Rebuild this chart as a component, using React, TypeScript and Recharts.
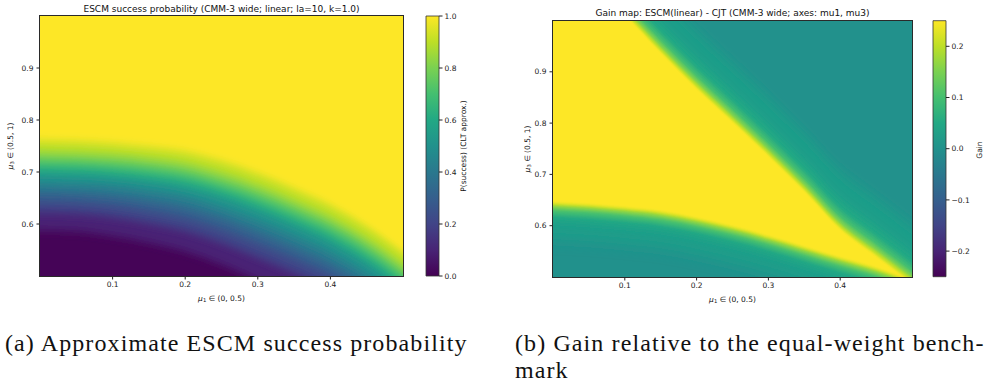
import React from 'react'
import { ComposedChart, Area, XAxis, YAxis, BarChart, Bar } from 'recharts'

const MU1 = [0, 0.05, 0.1, 0.15, 0.2, 0.25, 0.3, 0.35, 0.4, 0.45, 0.5]
const X_TICKS = [0.1, 0.2, 0.3, 0.4]
const Y_TICKS = [0.6, 0.7, 0.8, 0.9]
const CB_A_TICKS = [0, 0.2, 0.4, 0.6, 0.8, 1]
const CB_B_TICKS = [-0.2, -0.1, 0, 0.1, 0.2]

// matplotlib viridis, 0.0 .. 1.0 in steps of 0.1
const VIRIDIS = ['#440154', '#482475', '#414487', '#355f8d', '#2a788e', '#21918c', '#22a884', '#44bf70', '#7ad151', '#bddf26', '#fde725']

// (a) mu3 where P(success) passes 0.05, 0.15, ... 0.95
const P05 = [0.588, 0.586, 0.577, 0.564, 0.547, 0.522, 0.492, 0.463, 0.431, 0.39, 0.34]
const P15 = [0.622, 0.62, 0.613, 0.601, 0.586, 0.563, 0.535, 0.506, 0.474, 0.433, 0.383]
const P25 = [0.643, 0.641, 0.635, 0.624, 0.61, 0.588, 0.561, 0.532, 0.5, 0.459, 0.409]
const P35 = [0.661, 0.659, 0.654, 0.644, 0.631, 0.61, 0.583, 0.554, 0.522, 0.481, 0.431]
const P45 = [0.678, 0.676, 0.672, 0.663, 0.651, 0.63, 0.604, 0.575, 0.543, 0.502, 0.452]
const P55 = [0.696, 0.694, 0.69, 0.682, 0.67, 0.651, 0.626, 0.597, 0.565, 0.524, 0.474]
const P65 = [0.71, 0.708, 0.704, 0.696, 0.685, 0.666, 0.641, 0.612, 0.58, 0.539, 0.489]
const P75 = [0.723, 0.721, 0.717, 0.71, 0.699, 0.68, 0.656, 0.627, 0.595, 0.554, 0.504]
const P85 = [0.738, 0.736, 0.732, 0.725, 0.715, 0.696, 0.672, 0.643, 0.611, 0.57, 0.52]
const P95 = [0.76, 0.758, 0.754, 0.747, 0.738, 0.72, 0.696, 0.667, 0.635, 0.594, 0.544]

// (b) lower edge of the yellow wedge and its fade into teal below it
const LOW_F = [0.574, 0.57, 0.564, 0.556, 0.543, 0.527, 0.508, 0.487, 0.466, 0.446, 0.42]
const LOW_E = [0.609, 0.605, 0.599, 0.591, 0.578, 0.562, 0.543, 0.522, 0.501, 0.481, 0.455]
const LOW_D = [0.622, 0.618, 0.612, 0.604, 0.591, 0.575, 0.556, 0.535, 0.514, 0.494, 0.468]
const LOW_C = [0.632, 0.628, 0.622, 0.614, 0.601, 0.585, 0.566, 0.545, 0.524, 0.504, 0.478]
const LOW_B = [0.639, 0.635, 0.629, 0.621, 0.608, 0.592, 0.573, 0.552, 0.531, 0.511, 0.485]
const LOW_Y = [0.644, 0.64, 0.634, 0.626, 0.613, 0.597, 0.578, 0.557, 0.536, 0.516, 0.49]
// (b) upper edge of the yellow wedge and its fade into teal above it
const UP_Y = [1.16, 1.09, 1.015, 0.94, 0.87, 0.805, 0.739, 0.67, 0.596, 0.543, 0.49]
const UP_B = [1.168, 1.098, 1.023, 0.948, 0.878, 0.813, 0.747, 0.678, 0.604, 0.551, 0.498]
const UP_C = [1.178, 1.108, 1.033, 0.958, 0.888, 0.823, 0.757, 0.688, 0.614, 0.561, 0.508]
const UP_D = [1.192, 1.122, 1.047, 0.972, 0.902, 0.837, 0.771, 0.702, 0.628, 0.575, 0.522]
const UP_E = [1.215, 1.145, 1.07, 0.995, 0.925, 0.86, 0.794, 0.725, 0.651, 0.598, 0.545]
const UP_F = [1.27, 1.2, 1.125, 1.05, 0.98, 0.915, 0.849, 0.78, 0.706, 0.653, 0.6]

type Layer = { key: string; values: number[]; color: string; blur: number }

// each layer paints everything above its contour, later layers on top
const LAYERS_A: Layer[] = [
    { key: 'p05', values: P05, color: VIRIDIS[1], blur: 4 },
    { key: 'p15', values: P15, color: VIRIDIS[2], blur: 4 },
    { key: 'p25', values: P25, color: VIRIDIS[3], blur: 4 },
    { key: 'p35', values: P35, color: VIRIDIS[4], blur: 4 },
    { key: 'p45', values: P45, color: VIRIDIS[5], blur: 4 },
    { key: 'p55', values: P55, color: VIRIDIS[6], blur: 4 },
    { key: 'p65', values: P65, color: VIRIDIS[7], blur: 4 },
    { key: 'p75', values: P75, color: VIRIDIS[8], blur: 4 },
    { key: 'p85', values: P85, color: VIRIDIS[9], blur: 4 },
    { key: 'p95', values: P95, color: VIRIDIS[10], blur: 4 },
]

const LAYERS_B: Layer[] = [
    { key: 'lf', values: LOW_F, color: '#1f9e89', blur: 7 },
    { key: 'le', values: LOW_E, color: VIRIDIS[6], blur: 3.5 },
    { key: 'ld', values: LOW_D, color: VIRIDIS[7], blur: 2 },
    { key: 'lc', values: LOW_C, color: VIRIDIS[8], blur: 1.5 },
    { key: 'lb', values: LOW_B, color: VIRIDIS[9], blur: 1.5 },
    { key: 'ly', values: LOW_Y, color: VIRIDIS[10], blur: 1.5 },
    { key: 'uy', values: UP_Y, color: VIRIDIS[9], blur: 1.5 },
    { key: 'ub', values: UP_B, color: VIRIDIS[8], blur: 1.5 },
    { key: 'uc', values: UP_C, color: VIRIDIS[7], blur: 2 },
    { key: 'ud', values: UP_D, color: VIRIDIS[6], blur: 3.5 },
    { key: 'ue', values: UP_E, color: '#1f9e89', blur: 5 },
    { key: 'uf', values: UP_F, color: VIRIDIS[5], blur: 8 },
]

function buildRows(layers: Layer[]) {
    return MU1.map((x, i) => {
        const row: Record<string, number> = { x, floor: 0.5 }
        for (const l of layers) row[l.key] = l.values[i]
        return row
    })
}

const TICK = { fontSize: 7.5, fill: '#222', fontFamily: 'DejaVu Sans' }
const SANS = 'DejaVu Sans'
// layers reach above the plot so the clip hides their top edge
const ABOVE_TOP = 1.5

const blurId = (id: string, b: number) => `${id}-${Math.round(b * 10)}`

function Heatmap(props: { id: string; layers: Layer[]; bg: string; top: number; yAxisWidth: number; right: number; width: number; height: number }) {
    const { id, layers, bg, top, yAxisWidth, right, width, height } = props
    const rows = buildRows(layers)
    const blurs = Array.from(new Set(layers.map((l) => l.blur)))
    return (
        <ComposedChart width={width} height={height} data={rows} margin={{ top, right, bottom: 0, left: 0 }}>
            <defs>
                {/* soften the steps between colour levels (vertical only, so the side edges stay crisp) */}
                {blurs.map((b) => (
                    <filter key={b} id={blurId(id, b)} x="0" y="-0.3" width="1" height="1.6">
                        <feGaussianBlur stdDeviation={`0 ${b}`} />
                    </filter>
                ))}
            </defs>
            <XAxis type="number" dataKey="x" domain={[0, 0.5]} ticks={X_TICKS} allowDataOverflow
                axisLine={false} tickSize={3.5} tickMargin={2} height={24}
                tick={TICK} tickLine={{ stroke: '#222' }} />
            <YAxis type="number" domain={[0.5, 1]} ticks={Y_TICKS} allowDataOverflow
                axisLine={false} tickSize={3.5} tickMargin={3} width={yAxisWidth}
                tick={TICK} tickLine={{ stroke: '#222' }} />
            <Area dataKey="floor" type="linear" baseValue={ABOVE_TOP} fill={bg} fillOpacity={1}
                stroke="none" isAnimationActive={false} dot={false} activeDot={false} />
            {layers.map((l) => (
                <Area key={l.key} dataKey={l.key} type="monotone" baseValue={ABOVE_TOP} fill={l.color}
                    fillOpacity={1} stroke="none" filter={`url(#${blurId(id, l.blur)})`}
                    isAnimationActive={false} dot={false} activeDot={false} />
            ))}
        </ComposedChart>
    )
}

function ColorBar(props: { id: string; domain: [number, number]; ticks: number[]; top: number; bottom: number; height: number }) {
    const { id, domain, ticks, top, bottom, height } = props
    const fmt = (v: number) => (v < 0 ? '\u2212' + Math.abs(v).toFixed(1) : v.toFixed(1))
    return (
        <BarChart width={60} height={height} data={[{ k: 'cb', v: domain }]} barCategoryGap={0}
            margin={{ top, right: 0, bottom, left: 6 }}>
            <defs>
                <linearGradient id={id} x1="0" y1="1" x2="0" y2="0">
                    {VIRIDIS.map((c, i) => (
                        <stop key={i} offset={`${i * 10}%`} stopColor={c} />
                    ))}
                </linearGradient>
            </defs>
            <XAxis dataKey="k" hide />
            <YAxis orientation="right" type="number" domain={domain} ticks={ticks} width={41}
                axisLine={false} tickSize={3.5} tickMargin={2} tick={TICK}
                tickLine={{ stroke: '#222' }} tickFormatter={fmt} />
            <Bar dataKey="v" fill={`url(#${id})`} stroke="#333" strokeWidth={0.8} isAnimationActive={false} />
        </BarChart>
    )
}

function Mu(props: { sub: string; range: string }) {
    return (
        <span>
            <span style={{ fontStyle: 'italic' }}>μ</span>
            <sub style={{ fontSize: '0.7em', verticalAlign: '-0.25em' }}>{props.sub}</sub> ∈ {props.range}
        </span>
    )
}

function Txt(props: { x: number; y: number; size: number; rotate?: boolean; children: React.ReactNode }) {
    const { x, y, size, rotate, children } = props
    return (
        <div style={{
            position: 'absolute', left: x, top: y, whiteSpace: 'nowrap', lineHeight: 1,
            fontSize: size, fontFamily: SANS, color: '#111',
            transform: `translate(-50%, -50%)${rotate ? ' rotate(-90deg)' : ''}`,
        }}>
            {children}
        </div>
    )
}

function Frame(props: { x: number; y: number; w: number; h: number }) {
    return (
        <div style={{
            position: 'absolute', left: props.x, top: props.y, width: props.w, height: props.h,
            border: '1px solid #2a2a2a', boxSizing: 'border-box', pointerEvents: 'none',
        }} />
    )
}

const CAPTION = { position: 'absolute' as const, fontFamily: 'Liberation Serif', fontSize: 24, letterSpacing: 1.1, color: '#111', whiteSpace: 'nowrap' as const, lineHeight: 1 }

export default function App() {
    return (
        <div style={{ position: 'absolute', left: 0, top: 0, width: 987, height: 385, background: '#fff', overflow: 'hidden' }}>
            {/* (a) success probability */}
            <div style={{ position: 'absolute', left: 0, top: 0 }}>
                <Heatmap id="blur-a" layers={LAYERS_A} bg="#450457" top={16} yAxisWidth={40} right={17} width={420} height={300} />
            </div>
            <Frame x={39} y={15} w={365} h={262} />
            <div style={{ position: 'absolute', left: 420, top: 0 }}>
                <ColorBar id="vir-a" domain={[0, 1]} ticks={CB_A_TICKS} top={16} bottom={24} height={300} />
            </div>
            <Txt x={221.5} y={9} size={9}>ESCM success probability (CMM-3 wide; linear; la=10, k=1.0)</Txt>
            <Txt x={221.5} y={299} size={7.5}><Mu sub="1" range="(0, 0.5)" /></Txt>
            <Txt x={11} y={146} size={7.5} rotate><Mu sub="3" range="(0.5, 1)" /></Txt>
            <Txt x={464} y={146} size={7.5} rotate>P(success) (CLT approx.)</Txt>

            {/* (b) gain map */}
            <div style={{ position: 'absolute', left: 510, top: 0 }}>
                <Heatmap id="blur-b" layers={LAYERS_B} bg="#21918c" top={20.5} yAxisWidth={43} right={18} width={420} height={301} />
            </div>
            <Frame x={552} y={20} w={361} h={258} />
            <div style={{ position: 'absolute', left: 927, top: 0 }}>
                <ColorBar id="vir-b" domain={[-0.25, 0.25]} ticks={CB_B_TICKS} top={20.7} bottom={24.3} height={301} />
            </div>
            <Txt x={732.5} y={13.3} size={9}>Gain map: ESCM(linear) - CJT (CMM-3 wide; axes: mu1, mu3)</Txt>
            <Txt x={732.5} y={300} size={7.5}><Mu sub="1" range="(0, 0.5)" /></Txt>
            <Txt x={527.5} y={149} size={7.5} rotate><Mu sub="3" range="(0.5, 1)" /></Txt>
            <Txt x={980} y={150} size={7.5} rotate>Gain</Txt>

            {/* captions */}
            <div style={{ ...CAPTION, left: 5, top: 331 }}>(a) Approximate ESCM success probability</div>
            <div style={{ ...CAPTION, left: 515, top: 331 }}>(b) Gain relative to the equal-weight bench-</div>
            <div style={{ ...CAPTION, left: 515, top: 358 }}>mark</div>
        </div>
    )
}
